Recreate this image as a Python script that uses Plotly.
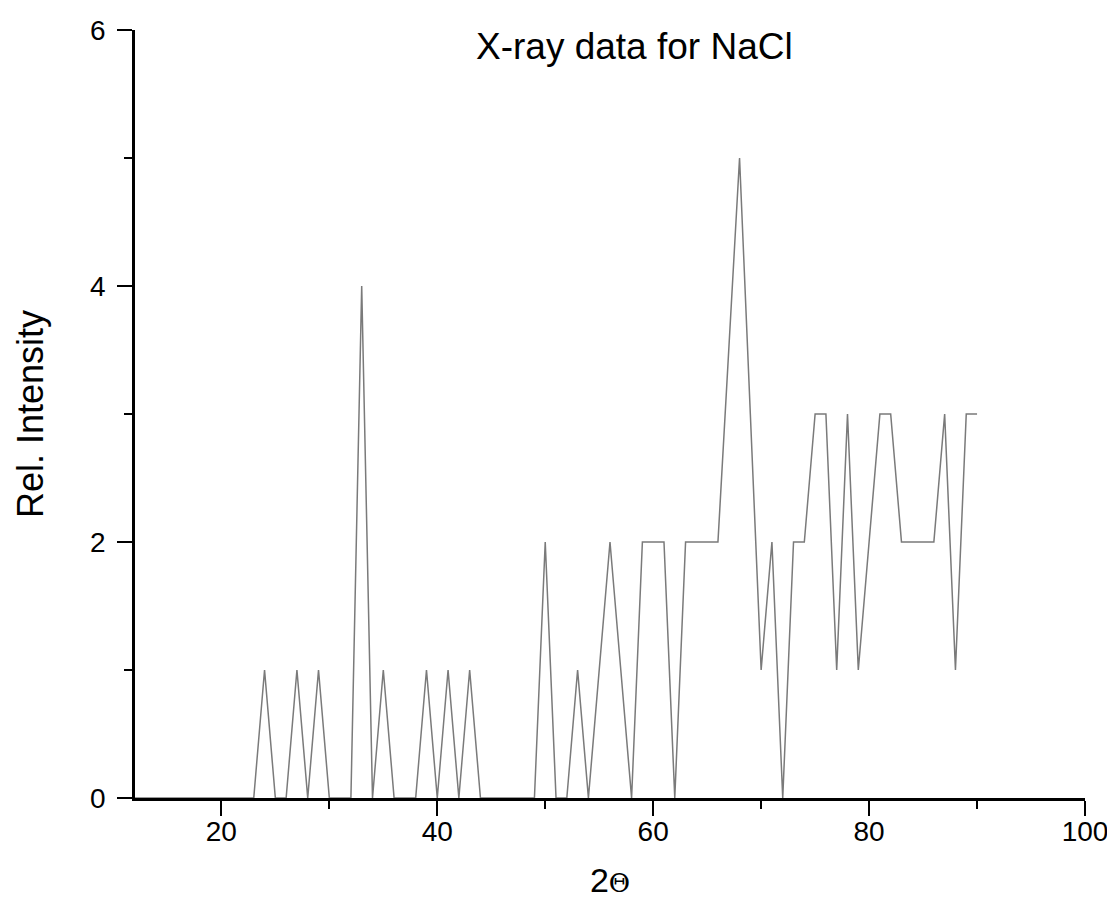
import plotly.graph_objects as go

FONT = "Liberation Sans, Arial, sans-serif"
LINE = "#7a7a7a"

# 2-theta positions (degrees) and relative intensities
two_theta = list(range(12, 91))
intensity = [
    0, 0, 0, 0, 0, 0, 0, 0, 0, 0, 0,        # 12-22
    0, 1, 0, 0, 1, 0, 1, 0, 0, 0,           # 23-32
    4, 0, 1, 0, 0, 0, 1, 0, 1, 0,           # 33-42
    1, 0, 0, 0, 0, 0, 0, 2, 0, 0,           # 43-52
    1, 0, 1, 2, 1, 0, 2, 2, 2, 0,           # 53-62
    2, 2, 2, 2, 3.5, 5, 3, 1, 2, 0,         # 63-72
    2, 2, 3, 3, 1, 3, 1, 2, 3, 3,           # 73-82
    2, 2, 2, 2, 3, 1, 3, 3,                 # 83-90
]

x_ticks = [20, 40, 60, 80, 100]
y_ticks = [0, 2, 4, 6]

fig = go.Figure(go.Scatter(
    x=two_theta, y=intensity, mode="lines",
    line=dict(color=LINE, width=1.5),
    hoverinfo="skip", showlegend=False,
))

axis_common = dict(
    showline=True, linecolor="black", linewidth=2.5, layer="above traces",
    showgrid=False, zeroline=False, mirror=False,
    ticks="outside", ticklen=15, tickwidth=2, tickcolor="black",
    tickfont=dict(family=FONT, size=28, color="black"),
)

fig.update_xaxes(
    **axis_common,
    range=[12, 100], tickvals=x_ticks,
    minor=dict(ticks="outside", ticklen=8, tickwidth=2, tickcolor="black", dtick=10, tick0=0),
    ticklabelstandoff=-8,
    title=dict(text="2<span style='font-family:DejaVu Serif;font-size:26px'>Θ</span>",
               font=dict(family=FONT, size=34, color="black"), standoff=22),
)
fig.update_yaxes(
    **axis_common,
    range=[0, 6], tickvals=y_ticks,
    minor=dict(ticks="outside", ticklen=8, tickwidth=2, tickcolor="black", dtick=1, tick0=0),
    ticklabelstandoff=6,
    title=dict(text="Rel. Intensity", font=dict(family=FONT, size=36, color="black"), standoff=36),
)

fig.add_annotation(
    text="X-ray data for NaCl", xref="paper", yref="paper",
    x=0.526, y=0.978, showarrow=False, xanchor="center", yanchor="middle",
    font=dict(family=FONT, size=37, color="black"),
)

fig.update_layout(
    width=1115, height=916,
    margin=dict(l=127, r=38, t=22, b=126, autoexpand=False),
    plot_bgcolor="white", paper_bgcolor="white",
)

fig.write_html("out.html")
